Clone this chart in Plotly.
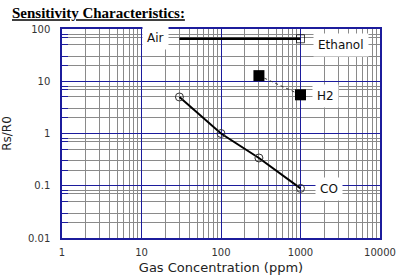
import plotly.graph_objects as go
import math

# ---- data ----
air_x = [30, 1000]
air_y = [65, 65]
h2_x = [300, 1000]
h2_y = [12.8, 5.5]
co_x = [30, 100, 300, 1000]
co_y = [5.0, 1.0, 0.34, 0.089]

x_ticks = [1, 10, 100, 1000, 10000]
x_ticktext = ["1", "10", "100", "1000", "10000"]
y_ticks = [0.01, 0.1, 1, 10, 100]
y_ticktext = ["0.01", "0.1", "1", "10", "100"]

label_text = ["Air", "Ethanol", "H2", "CO"]
label_x = [15, 3200, 2050, 2300]
label_y = [66, 50, 5.3, 0.085]

NAVY = "#1c1c9c"
GREY = "#8a8a8a"

x_minor = [m * d for d in [1, 10, 100, 1000] for m in range(2, 10)]
y_minor = [m * d for d in [0.01, 0.1, 1, 10] for m in [2, 3, 5, 7, 8]]

fig = go.Figure()
fig.add_trace(go.Scatter(x=air_x, y=air_y, mode="lines+markers",
                         line=dict(color="black", width=2.5),
                         marker=dict(symbol="square-open", size=[0, 8], color="black",
                                     line=dict(width=1)),
                         showlegend=False, hoverinfo="skip"))
fig.add_trace(go.Scatter(x=h2_x, y=h2_y, mode="lines+markers",
                         line=dict(color="#333333", width=1, dash="dot"),
                         marker=dict(symbol="square", size=11, color="black"),
                         showlegend=False, hoverinfo="skip"))
fig.add_trace(go.Scatter(x=co_x, y=co_y, mode="lines+markers",
                         line=dict(color="black", width=2),
                         marker=dict(symbol="circle-open", size=8, color="#333333",
                                     line=dict(width=1)),
                         showlegend=False, hoverinfo="skip"))

for t, lx, ly in zip(label_text, label_x, label_y):
    fig.add_annotation(x=math.log10(lx), y=math.log10(ly), xref="x", yref="y",
                       text=t, showarrow=False, bgcolor="white", borderpad=4,
                       font=dict(family="DejaVu Sans", size=12, color="#111111"))

fig.update_layout(
    width=398, height=280,
    margin=dict(l=62, r=18, t=29, b=42, autoexpand=False),
    paper_bgcolor="white", plot_bgcolor="white",
    title=dict(text="<u>Sensitivity Characteristics:</u>", x=12 / 398, xanchor="left",
               y=1 - 13 / 280, yanchor="middle",
               font=dict(family="Liberation Serif", size=15, color="black", weight="bold")),
)
fig.update_xaxes(type="log", range=[0, 4], tickmode="array", tickvals=x_ticks,
                 ticktext=x_ticktext, showgrid=True, gridcolor=NAVY, gridwidth=1,
                 showline=True, linecolor=NAVY, linewidth=1.5, mirror=True,
                 ticks="", ticklabelstandoff=4, zeroline=False, automargin=False,
                 tickfont=dict(family="DejaVu Sans", size=10, color="#333333"),
                 minor=dict(tickmode="array", tickvals=x_minor, showgrid=True,
                            gridcolor=GREY, gridwidth=1),
                 title=dict(text="Gas Concentration (ppm)", standoff=6,
                            font=dict(family="DejaVu Sans", size=13, color="#222222")))
fig.update_yaxes(type="log", range=[-2, 2], tickmode="array", tickvals=y_ticks,
                 ticktext=y_ticktext, showgrid=True, gridcolor=NAVY, gridwidth=1,
                 showline=True, linecolor=NAVY, linewidth=1.5, mirror=True,
                 ticks="", ticklabelstandoff=8, zeroline=False, automargin=False,
                 tickfont=dict(family="DejaVu Sans", size=10, color="#333333"),
                 minor=dict(tickmode="array", tickvals=y_minor, showgrid=True,
                            gridcolor=GREY, gridwidth=1, ticks="inside",
                            ticklen=6, tickcolor=NAVY),
                 title=dict(text="Rs/R0", standoff=14,
                            font=dict(family="DejaVu Sans", size=12, color="#222222")))

fig.write_html("out.html")
